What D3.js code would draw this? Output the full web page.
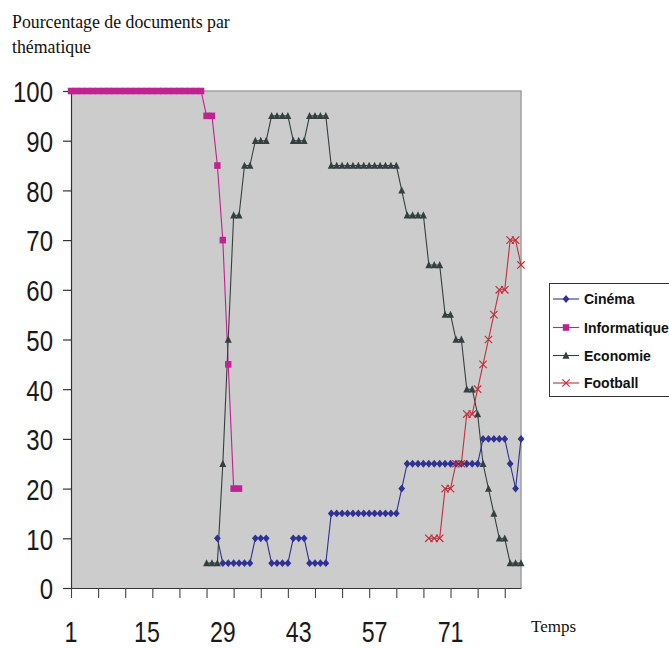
<!DOCTYPE html>
<html>
<head>
<meta charset="utf-8">
<script src="https://cdn.jsdelivr.net/npm/d3@7"></script>
<style>
  html, body { margin: 0; padding: 0; background: #ffffff; }
  svg { display: block; }
</style>
</head>
<body>
<svg id="chart" width="669" height="648"></svg>
<script>
// Share of documents per theme over time (84 time steps)
const _ = null;
const temps = d3.range(1, 85);
const xLabels = [1, 15, 29, 43, 57, 71];
const xTickMarks = [1, 6, 11, 16, 21, 26, 31, 36, 41, 46, 51, 56, 61, 66, 71, 76, 81];
const yTicks = [0, 10, 20, 30, 40, 50, 60, 70, 80, 90, 100];

const cinema = [
  _,_,_,_,_,_,_,_,_,_,_,_,_,_,_,_,_,_,_,_,_,_,_,_,_,_,_,
  10, 5,5,5,5,5,5, 10,10,10, 5,5,5,5, 10,10,10, 5,5,5,5,
  15,15,15,15,15,15,15,15,15,15,15,15,15, 20,
  25,25,25,25,25,25,25,25,25,25,25,25,25,25,
  30,30,30,30,30, 25, 20, 30
];
const informatique = [
  100,100,100,100,100,100,100,100,100,100,100,100,100,100,100,100,100,100,100,100,100,100,100,100,100,
  95,95, 85, 70, 45, 20,20,
  _,_,_,_,_,_,_,_,_,_,_,_,_,_,_,_,_,_,_,_,_,_,_,_,_,_,
  _,_,_,_,_,_,_,_,_,_,_,_,_,_,_,_,_,_,_,_,_,_,_,_,_,_
];
const economie = [
  _,_,_,_,_,_,_,_,_,_,_,_,_,_,_,_,_,_,_,_,_,_,_,_,_,
  5,5,5, 25, 50, 75,75, 85,85, 90,90,90, 95,95,95,95, 90,90,90, 95,95,95,95,
  85,85,85,85,85,85,85,85,85,85,85,85,85, 80, 75,75,75,75, 65,65,65,
  55,55, 50,50, 40,40, 35, 25, 20, 15, 10,10, 5,5,5
];
const football = [
  _,_,_,_,_,_,_,_,_,_,_,_,_,_,_,_,_,_,_,_,_,_,_,_,_,_,_,_,_,_,_,_,_,
  _,_,_,_,_,_,_,_,_,_,_,_,_,_,_,_,_,_,_,_,_,_,_,_,_,_,_,_,_,_,_,_,_,
  10,10,10, 20,20, 25,25, 35,35, 40, 45, 50, 55, 60,60, 70,70, 65
];

const seriesNames = ["Cinéma", "Informatique", "Economie", "Football"];
const seriesValues = [cinema, informatique, economie, football];
const seriesColors = ["#2f3195", "#C0228F", "#334040", "#C0303C"];
const seriesMarkers = ["diamond", "square", "triangle", "cross"];

const svg = d3.select("#chart");
const plot = { left: 71, right: 521, top: 91, bottom: 588 };
const NARROW = 0.8; // horizontal squeeze for the condensed axis numerals
const axisFont = "'Liberation Sans', Arial, sans-serif";

const x = d3.scaleLinear().domain([1, 84]).range([plot.left, plot.right]);
const y = d3.scaleLinear().domain([0, 100]).range([plot.bottom, plot.top]);

// Title
const title = svg.append("text")
  .attr("font-family", "'Liberation Serif', 'Times New Roman', serif")
  .attr("font-size", 17.8)
  .attr("fill", "#111");
title.append("tspan").attr("x", 12).attr("y", 28).text("Pourcentage de documents par");
title.append("tspan").attr("x", 12).attr("y", 53).text("thématique");

// Plot area
svg.append("rect")
  .attr("x", plot.left).attr("y", plot.top)
  .attr("width", plot.right - plot.left).attr("height", plot.bottom - plot.top)
  .attr("fill", "#cccccc");
svg.append("path")
  .attr("d", `M${plot.left},${plot.top}H${plot.right}V${plot.bottom}`)
  .attr("fill", "none").attr("stroke", "#a3a3a3").attr("stroke-width", 1.6);

// Y axis
const yAxis = svg.append("g")
  .attr("transform", `translate(${plot.left},0)`)
  .call(d3.axisLeft(y).tickValues(yTicks).tickSizeInner(8).tickSizeOuter(0).tickPadding(10).tickFormat(d3.format("d")));
yAxis.select(".domain").attr("stroke", "#333").attr("stroke-width", 1.2);
yAxis.selectAll(".tick line").attr("stroke", "#333").attr("stroke-width", 1.2);
yAxis.selectAll(".tick text")
  .attr("font-family", axisFont)
  .attr("font-size", 30).attr("fill", "#1a1a1a").attr("dy", "0.36em")
  .attr("x", -18 / NARROW)
  .attr("transform", `scale(${NARROW},1)`);

// X axis: tick marks every 5 steps, labels every 14 steps
const xAxis = svg.append("g")
  .attr("transform", `translate(0,${plot.bottom})`)
  .call(d3.axisBottom(x).tickValues(xTickMarks).tickSizeInner(10).tickSizeOuter(0).tickFormat(""));
xAxis.select(".domain").attr("stroke", "#333").attr("stroke-width", 1.2);
xAxis.selectAll(".tick line").attr("stroke", "#444").attr("stroke-width", 1.1);

svg.append("g").selectAll("g").data(xLabels).join("g")
  .attr("transform", d => `translate(${x(d)},641.5) scale(${NARROW},1)`)
  .append("text")
  .attr("text-anchor", "middle")
  .attr("font-family", axisFont)
  .attr("font-size", 29).attr("fill", "#1a1a1a")
  .text(d => d);

svg.append("text")
  .attr("x", 531).attr("y", 632)
  .attr("font-family", "'Liberation Serif', 'Times New Roman', serif")
  .attr("font-size", 17).attr("fill", "#111")
  .text("Temps");

// Marker shapes
function markerPath(kind) {
  switch (kind) {
    case "diamond": return "M0,-3.9L3.4,0L0,3.9L-3.4,0Z";
    case "square": return "M-3.2,-3.3H3.2V3.3H-3.2Z";
    case "triangle": return "M0,-3.9L3.5,3.2H-3.5Z";
    case "cross": return "M-3.7,-3.7L3.7,3.7M-3.7,3.7L3.7,-3.7";
  }
}
function drawMarker(g, kind, color) {
  const p = g.append("path").attr("d", markerPath(kind));
  if (kind === "cross") p.attr("fill", "none").attr("stroke", color).attr("stroke-width", 1.2);
  else p.attr("fill", color);
}

// Lines
const line = d3.line()
  .defined(d => d.v !== null)
  .x(d => x(d.t)).y(d => y(d.v));

const seriesData = seriesValues.map(vals => temps.map((t, i) => ({ t, v: vals[i] })));

svg.append("g").selectAll("path").data(seriesData).join("path")
  .attr("d", line)
  .attr("fill", "none")
  .attr("stroke", (d, i) => seriesColors[i])
  .attr("stroke-width", 1.1);

// Markers
seriesData.forEach((pts, si) => {
  const g = svg.append("g");
  pts.filter(d => d.v !== null).forEach(d => {
    const m = g.append("g").attr("transform", `translate(${x(d.t)},${y(d.v)})`);
    drawMarker(m, seriesMarkers[si], seriesColors[si]);
  });
});

// Legend
const legend = svg.append("g");
legend.append("rect")
  .attr("x", 549.5).attr("y", 283.5).attr("width", 130).attr("height", 113)
  .attr("fill", "#ffffff").attr("stroke", "#333").attr("stroke-width", 1);
const rowsY = [299, 327.5, 355.5, 383];
seriesNames.forEach((name, i) => {
  const row = legend.append("g").attr("transform", `translate(0,${rowsY[i]})`);
  row.append("line").attr("x1", 553).attr("x2", 579).attr("y1", 0).attr("y2", 0)
    .attr("stroke", seriesColors[i]).attr("stroke-width", 1.1);
  drawMarker(row.append("g").attr("transform", "translate(566,0)"), seriesMarkers[i], seriesColors[i]);
  row.append("text")
    .attr("x", 584).attr("y", 5)
    .attr("font-family", "'Liberation Sans', Arial, sans-serif")
    .attr("font-weight", "bold").attr("font-size", 14).attr("fill", "#111")
    .text(name);
});
</script>
</body>
</html>
